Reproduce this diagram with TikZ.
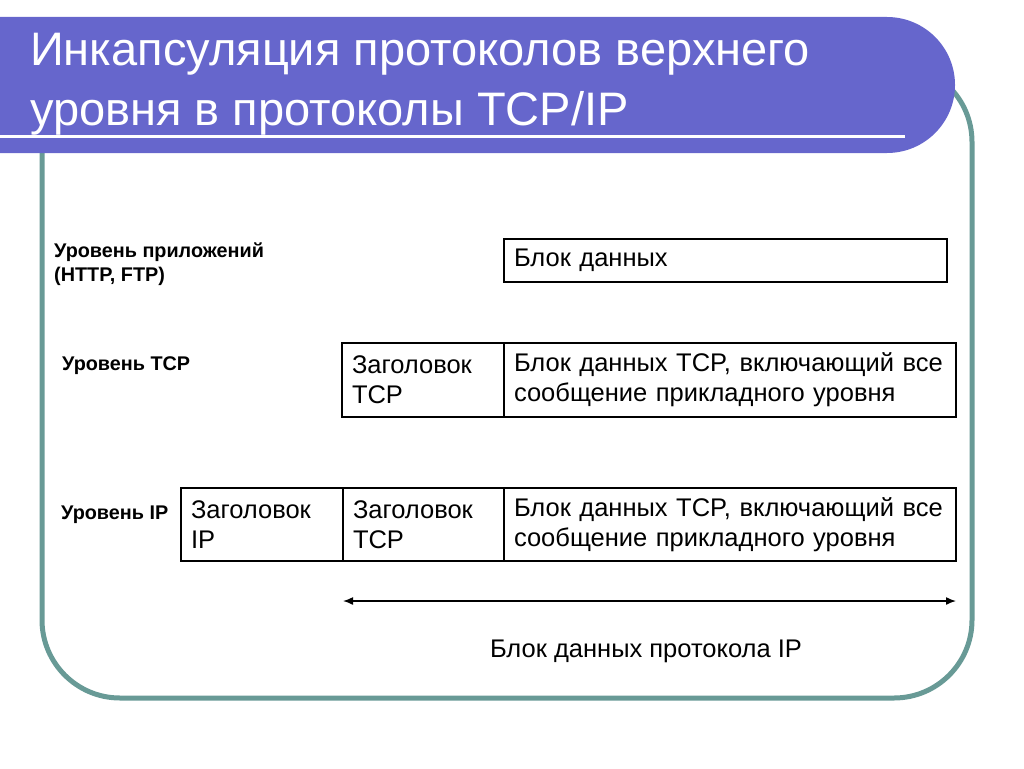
\documentclass[tikz,border=0pt]{standalone}
\usepackage{fontspec}
\setmainfont{Liberation Sans}
\usetikzlibrary{arrows.meta,positioning}
\definecolor{titlebar}{RGB}{102,102,204}
\definecolor{framegreen}{RGB}{104,154,150}
\tikzset{
  pdubox/.style={draw=black, line width=2pt, inner xsep=10pt, inner ysep=0pt,
    outer sep=0pt, anchor=north west, align=left,
    font=\fontsize{25.5}{30}\selectfont},
  layerlabel/.style={anchor=base west, inner sep=0pt, align=left,
    font=\bfseries\fontsize{19.8}{23.5}\selectfont},
  titletext/.style={anchor=base west, inner sep=0pt, text=white,
    font=\fontsize{47}{58}\selectfont},
}
\begin{document}
\begin{tikzpicture}[x=1pt,y=-1pt]
\useasboundingbox (0,0) rectangle (1024,768);
% Frame
\draw[framegreen, line width=5pt, rounded corners=78pt] (42,64) rectangle (972,698);

% Title bar
\fill[titlebar] (0,17) -- (887,17) arc[start angle=-90, end angle=90, radius=68]
  -- (0,153) -- cycle;
\draw[white, line width=3pt] (0,136) -- (905,136);
\node[titletext] (titleA) at (30,66) {Инкапсуляция протоколов верхнего};
\node[titletext] (titleB) at (30,125) {уровня в протоколы TCP/IP};

% Layers
\node[layerlabel] (appLabel) at (54,281) {Уровень приложений\\(HTTP, FTP)};
\node[layerlabel] (tcpLabel) at (62,370) {Уровень TCP};
\node[layerlabel] (ipLabel) at (61,519) {Уровень IP};

% Application level
\node[pdubox, minimum height=43pt, text width=423pt] (appData) at (504,239) {Блок данных};

% TCP level
\node[pdubox, minimum height=74pt, text width=142pt] (tcpHead) at (342,343) {Заголовок\\TCP};
\node[pdubox, minimum height=74pt, text width=432pt] (tcpData) at (tcpHead.north east)
  {Блок данных TCP, включающий все\\сообщение прикладного уровня};

% IP level
\node[pdubox, minimum height=73pt, text width=142pt] (ipHead) at (181,488) {Заголовок\\IP};
\node[pdubox, minimum height=73pt, text width=141pt] (ipTcpHead) at (ipHead.north east) {Заголовок\\TCP};
\node[pdubox, minimum height=73pt, text width=432pt] (ipData) at (ipTcpHead.north east)
  {Блок данных TCP, включающий все\\сообщение прикладного уровня};

% IP payload span
\coordinate (spanL) at (343,601);
\coordinate (spanR) at (956,601);
\draw[line width=1.5pt, {Latex[length=10pt,width=8pt]}-{Latex[length=10pt,width=8pt]}] (spanL) -- (spanR);
\node[anchor=base, inner sep=0pt, font=\fontsize{25.5}{30}\selectfont] (spanLabel) at (646,657)
  {Блок данных протокола IP};
\end{tikzpicture}
\end{document}
